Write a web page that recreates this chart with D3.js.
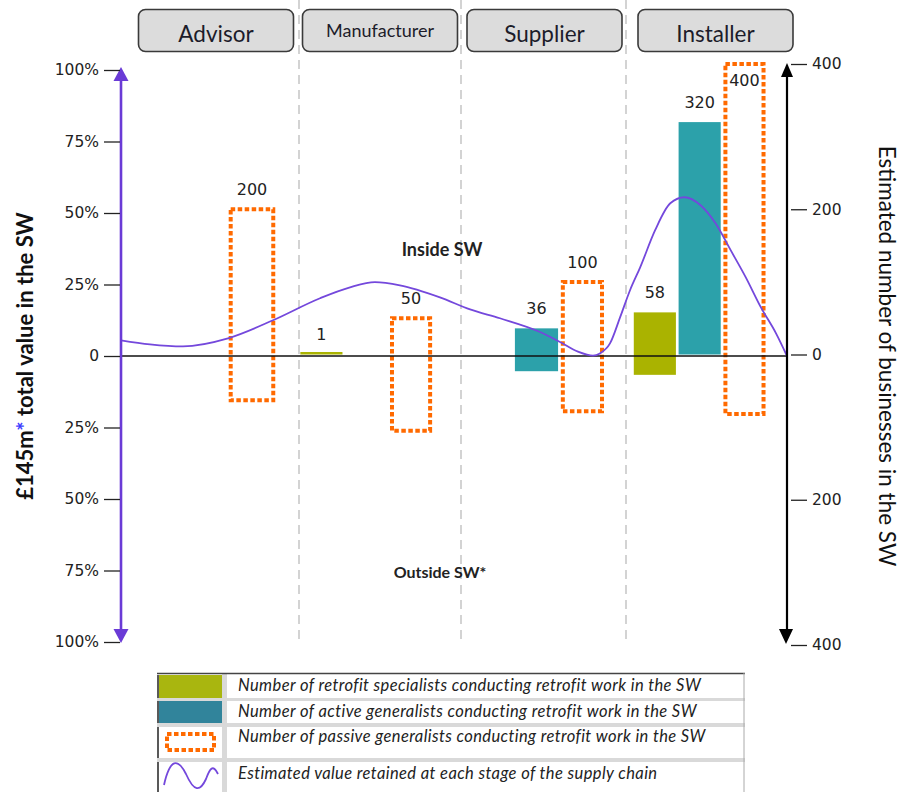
<!DOCTYPE html>
<html>
<head>
<meta charset="utf-8">
<script src="https://cdn.jsdelivr.net/npm/d3@7"></script>
<style>
  body { margin: 0; background: #fff; }
  svg { display: block; font-family: Lato, "Open Sans", sans-serif; }
</style>
</head>
<body>
<svg id="chart" width="900" height="792"></svg>
<script>
// Supply chain stages, left to right
const stages = ["Advisor", "Manufacturer", "Supplier", "Installer"];

// Business counts per stage: part inside the SW (above zero) and outside (below zero); null = no bar
const specialistInside  = [null, 1, null, 58];
const specialistOutside = [null, 0, null, 28];
const activeInside      = [null, null, 36, 320];
const activeOutside     = [null, null, 23, 0];
const passiveInside     = [200, 50, 100, 400];
const passiveOutside    = [63, 105, 78, 82];

// Estimated value retained along the chain (position in stage units, % of total value)
const valuePos = [0, 0.163, 0.348, 0.601, 0.854, 1.13, 1.315, 1.469, 1.623, 1.87, 2.055, 2.236, 2.479, 2.6, 2.709, 2.8, 2.842, 2.903, 2.964, 3.025, 3.088, 3.181, 3.275, 3.363, 3.463, 3.556, 3.65, 3.744, 3.838, 3.931, 4];
const valuePct = [5.5, 4.1, 3.4, 6.2, 12.5, 20.2, 24.0, 25.8, 24.7, 20.5, 16.3, 13.2, 8.4, 4.9, 1.5, 0.1, 0.9, 4.4, 13.5, 23.0, 31.0, 44.0, 53.4, 55.5, 52.7, 46.4, 37.0, 27.5, 17.0, 8.0, 0];

// Axis ticks
const leftTicks  = [100, 75, 50, 25, 0, -25, -50, -75, -100];
const rightTicks = [400, 200, 0, -200, -400];

// Legend texts
const seriesKeys   = ["specialist", "active", "passive", "value"];
const seriesLabels = [
  "Number of retrofit specialists conducting retrofit work in the SW",
  "Number of active generalists conducting retrofit work in the SW",
  "Number of passive generalists conducting retrofit work in the SW",
  "Estimated value retained at each stage of the supply chain"
];

// ---------- styling ----------
const colors = { specialist: "#aab300", active: "#2ca1aa", passive: "#ff6a00", value: "#7448dc" };
const legendColors = { specialist: "#a9b60f", active: "#31849b" };
const numFont = "'DejaVu Sans', sans-serif";
// header boxes sit slightly right of their stage centres
const headerNudge = [6, 0, 1, 9];

const svg = d3.select("#chart");

// ---------- scales ----------
const x = d3.scaleLinear().domain([0, 1, 2, 3, 4]).range([121, 299, 461, 626, 787]);
const yL = d3.scaleLinear().domain([-100, 100]).range([642, 70]);
const yR = d3.scaleLinear().domain([-400, 400]).range([645, 64]);

// slots inside each stage for the three bar types
const slot = d3.scaleBand().domain(["specialist", "active", "passive"])
  .range([0.04, 0.875]).paddingInner(0.06).paddingOuter(0.03);
const slotManu = slot.copy().range([0.0, 0.83]);

function barX(i, key) {
  const s = stages[i] === "Manufacturer" ? slotManu : slot;
  const w = x(i + 1) - x(i);
  return { x0: x(i) + s(key) * w, w: s.bandwidth() * w };
}

// ---------- stage separators ----------
svg.append("g").selectAll("line").data([1, 2, 3]).join("line")
  .attr("x1", d => x(d)).attr("x2", d => x(d))
  .attr("y1", 0).attr("y2", 640)
  .attr("stroke", "#c9c9c9").attr("stroke-width", 1.6)
  .attr("stroke-dasharray", "9 6");

// ---------- stage header boxes ----------
const hdr = svg.append("g").selectAll("g").data(stages).join("g")
  .attr("transform", (d, i) => `translate(${(x(i) + x(i + 1)) / 2 + headerNudge[i]},0)`);
hdr.append("rect")
  .attr("x", -77.5).attr("y", 9.5).attr("width", 155).attr("height", 42)
  .attr("rx", 7).attr("fill", "#dcdcdc").attr("stroke", "#3a3a3a").attr("stroke-width", 1.6);
hdr.append("text")
  .attr("text-anchor", "middle")
  .attr("y", d => d === "Manufacturer" ? 37 : 42)
  .attr("font-size", d => d === "Manufacturer" ? 18 : 22.5)
  .attr("fill", "#1c1c2a")
  .text(d => d);

// ---------- bars ----------
const bars = [];
const seriesData = [
  ["specialist", specialistInside, specialistOutside],
  ["active", activeInside, activeOutside],
  ["passive", passiveInside, passiveOutside]
];
stages.forEach((s, i) => {
  seriesData.forEach(([key, ins, outs]) => {
    if (ins[i] != null) bars.push({ i, key, inside: ins[i], outside: outs[i] });
  });
});

const barG = svg.append("g");
bars.filter(d => d.key !== "passive").forEach(d => {
  const b = barX(d.i, d.key);
  const top = yR(d.inside), bot = yR(-d.outside);
  barG.append("rect")
    .attr("x", b.x0).attr("width", b.w)
    .attr("y", Math.min(top, bot - 2.5)).attr("height", Math.max(bot - top, 2.5))
    .attr("fill", colors[d.key]);
});
bars.filter(d => d.key === "passive").forEach(d => {
  const b = barX(d.i, d.key);
  const top = yR(d.inside), bot = yR(-d.outside);
  barG.append("rect")
    .attr("x", b.x0 + 2).attr("width", b.w - 4)
    .attr("y", top).attr("height", bot - top)
    .attr("fill", "none").attr("stroke", colors.passive)
    .attr("stroke-width", 4).attr("stroke-dasharray", "4.5 2.5");
});

// value labels
bars.forEach(d => {
  const b = barX(d.i, d.key);
  const top = yR(d.inside);
  const cy = top < 100 ? top + 16 : top - 20;
  barG.append("text")
    .attr("x", b.x0 + b.w / 2).attr("y", cy)
    .attr("dy", "0.36em").attr("text-anchor", "middle")
    .attr("font-family", numFont).attr("font-size", 16).attr("fill", "#222")
    .text(d.inside);
});

// ---------- zero line ----------
svg.append("line")
  .attr("x1", x(0)).attr("x2", x(4)).attr("y1", yL(0)).attr("y2", yL(0))
  .attr("stroke", "#111").attr("stroke-width", 1.5);

// ---------- value line ----------
const valuePts = valuePos.map((p, k) => ({ p, v: valuePct[k] }));
svg.append("path")
  .datum(valuePts)
  .attr("fill", "none").attr("stroke", colors.value).attr("stroke-width", 1.8)
  .attr("d", d3.line().x(d => x(d.p)).y(d => yL(d.v)).curve(d3.curveMonotoneX));

// ---------- region labels ----------
svg.append("text").attr("x", 442).attr("y", yL(37)).attr("dy", "0.35em")
  .attr("text-anchor", "middle").attr("font-weight", "bold").attr("font-size", 18)
  .attr("fill", "#222").text("Inside SW");
svg.append("text").attr("x", 440).attr("y", yL(-75.7)).attr("dy", "0.35em")
  .attr("text-anchor", "middle").attr("font-weight", "bold").attr("font-size", 16)
  .attr("fill", "#222").text("Outside SW*");

// ---------- axes ----------
function arrow(g, cx, tipY, dir, w, h, color) {
  const b = tipY + dir * h;
  g.append("path")
    .attr("d", `M${cx},${tipY} L${cx - w / 2},${b} L${cx + w / 2},${b} Z`)
    .attr("fill", color);
}

// left axis (value share)
const la = svg.append("g");
const lx = x(0);
la.append("line").attr("x1", lx).attr("x2", lx)
  .attr("y1", yL(100) + 6).attr("y2", yL(-100) - 6)
  .attr("stroke", "#6a3bd6").attr("stroke-width", 2.6);
arrow(la, lx, yL(100) - 3, 1, 15, 14, "#6a3bd6");
arrow(la, lx, yL(-100) + 1, -1, 15, 14, "#6a3bd6");
const lAxis = d3.axisLeft(yL).tickValues(leftTicks).tickSize(16).tickPadding(5)
  .tickFormat(d => d === 0 ? "0" : Math.abs(d) + "%");
const lg = la.append("g").attr("transform", `translate(${lx - 1},0)`).call(lAxis);
lg.select(".domain").remove();
lg.selectAll(".tick line").attr("stroke", "#222").attr("stroke-width", 1.3);
lg.selectAll(".tick text").attr("font-family", numFont).attr("font-size", 15.5).attr("fill", "#222");

// right axis (business counts)
const ra = svg.append("g");
const rx = x(4);
ra.append("line").attr("x1", rx).attr("x2", rx)
  .attr("y1", yR(400) + 8).attr("y2", yR(-400) - 8)
  .attr("stroke", "#000").attr("stroke-width", 2.2);
arrow(ra, rx, yR(400) - 1, 1, 12, 14, "#000");
arrow(ra, rx - 1, yR(-400) - 1, -1, 14, 15, "#000");
const rAxis = d3.axisRight(yR).tickValues(rightTicks).tickSize(16).tickPadding(5)
  .tickFormat(d => Math.abs(d));
const rg = ra.append("g").attr("transform", `translate(${rx + 4},0)`).call(rAxis);
rg.select(".domain").remove();
rg.selectAll(".tick line").attr("stroke", "#222").attr("stroke-width", 1.3);
rg.selectAll(".tick text").attr("font-family", numFont).attr("font-size", 15.5).attr("fill", "#222");

// axis titles
const lt = svg.append("text")
  .attr("transform", `translate(33,${yL(0)}) rotate(-90)`)
  .attr("text-anchor", "middle").attr("font-weight", "bold").attr("font-size", 22).attr("fill", "#111");
lt.append("tspan").text("£145m");
lt.append("tspan").attr("fill", "#3d3dff").text("*");
lt.append("tspan").text(" total value in the SW");

svg.append("text")
  .attr("transform", `translate(879,${yL(0)}) rotate(90)`)
  .attr("text-anchor", "middle").attr("font-size", 22.5).attr("fill", "#111")
  .text("Estimated number of businesses in the SW");

// ---------- legend ----------
const leg = svg.append("g");
const L = { x0: 157, x1: 745, swatchR: 222, textX: 238 };
const rows = [
  { y0: 675, y1: 698 },
  { y0: 701, y1: 723 },
  { y0: 727, y1: 758 },
  { y0: 762, y1: 792 }
];
// row separators and column divider
leg.append("rect").attr("x", L.swatchR).attr("y", 673).attr("width", 5).attr("height", 119).attr("fill", "#d9d9d9");
rows.slice(1).forEach((r, k) => {
  leg.append("rect").attr("x", L.x0).attr("y", rows[k].y1).attr("width", L.x1 - L.x0)
    .attr("height", r.y0 - rows[k].y1).attr("fill", "#d9d9d9");
});
leg.append("line").attr("x1", L.x0).attr("x2", L.x1).attr("y1", 673.5).attr("y2", 673.5)
  .attr("stroke", "#444").attr("stroke-width", 1.5);
leg.append("line").attr("x1", L.x1 - 1).attr("x2", L.x1 - 1).attr("y1", 673).attr("y2", 792)
  .attr("stroke", "#aaa").attr("stroke-width", 1);
rows.forEach(r => {
  leg.append("line").attr("x1", L.x0 + 1).attr("x2", L.x0 + 1).attr("y1", r.y0).attr("y2", r.y1)
    .attr("stroke", "#222").attr("stroke-width", 1.5);
});

seriesKeys.forEach((key, k) => {
  const r = rows[k];
  if (key === "specialist" || key === "active") {
    leg.append("rect").attr("x", L.x0 + 2).attr("y", r.y0).attr("width", L.swatchR - L.x0 - 2)
      .attr("height", r.y1 - r.y0).attr("fill", legendColors[key]);
  } else if (key === "passive") {
    leg.append("rect").attr("x", 167).attr("y", r.y0 + 7).attr("width", 47).attr("height", 16)
      .attr("fill", "none").attr("stroke", colors.passive).attr("stroke-width", 4)
      .attr("stroke-dasharray", "4.5 2.5");
  } else {
    leg.append("path")
      .attr("d", "M164,785 C170,758 178,758 186,774 C194,792 200,792 206,779 C210,768 213,764 218,774")
      .attr("fill", "none").attr("stroke", colors.value).attr("stroke-width", 1.8);
  }
  leg.append("text")
    .attr("x", L.textX).attr("y", r.y0 + (k < 2 ? 16 : k === 2 ? 15 : 17))
    .attr("font-style", "italic").attr("font-size", 16.5).attr("letter-spacing", 0.4)
    .attr("fill", "#222")
    .text(seriesLabels[k]);
});
</script>
</body>
</html>
